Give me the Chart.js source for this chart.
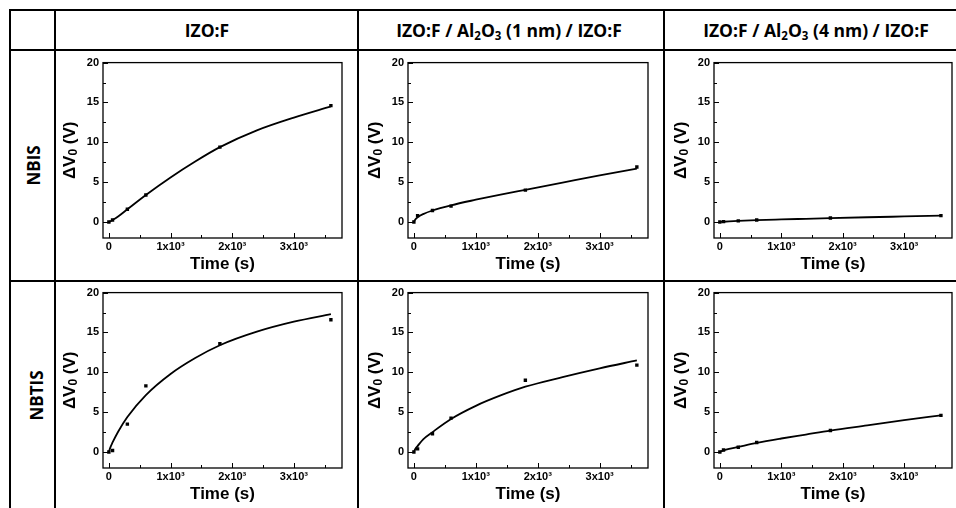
<!DOCTYPE html>
<html>
<head>
<meta charset="utf-8">
<script src="https://cdn.jsdelivr.net/npm/chart.js@4.4.0/dist/chart.umd.min.js"></script>
<style>
  html, body { margin: 0; padding: 0; background: #fff; width: 956px; height: 508px; overflow: hidden; }
  .wrap { position: relative; width: 956px; height: 508px; }
  canvas.panel { position: absolute; }
  .hl, .vl { position: absolute; background: #000; z-index: 5; }
  .hl { height: 2px; }
  .vl { width: 2px; }
  .head { position: absolute; top: 10px; height: 40px; line-height: 40px; text-align: center;
          font-family: "Open Sans", "DejaVu Sans", sans-serif; font-weight: 700; font-size: 17.5px; color: #000; white-space: nowrap; }
  .head sub { font-size: 11.5px; vertical-align: -3px; line-height: 0; }
  .rowlab { position: absolute; left: 11px; width: 44px; text-align: center;
            font-family: "Open Sans", "DejaVu Sans", sans-serif; font-weight: 700; font-size: 17px; color: #000; }
  .rowlab span { display: inline-block; transform: rotate(-90deg); white-space: nowrap; }
</style>
</head>
<body>
<div class="wrap" id="wrap">
  <div class="hl" style="left:9px; top:9px; width:960px;"></div>
  <div class="hl" style="left:9px; top:49px; width:960px;"></div>
  <div class="hl" style="left:9px; top:280px; width:960px;"></div>
  <div class="vl" style="left:9px; top:9px; height:510px;"></div>
  <div class="vl" style="left:54px; top:9px; height:510px;"></div>
  <div class="vl" style="left:357px; top:9px; height:510px;"></div>
  <div class="vl" style="left:663px; top:9px; height:510px;"></div>
</div>
<script>
// ---------- data ----------
const columnTitles = ['IZO:F', 'IZO:F / Al<sub>2</sub>O<sub>3</sub> (1 nm) / IZO:F', 'IZO:F / Al<sub>2</sub>O<sub>3</sub> (4 nm) / IZO:F'];
const rowTitles = ['NBIS', 'NBTIS'];

const timeS = [0, 60, 300, 600, 1800, 3600];
const nbisIzo   = [0, 0.25, 1.6, 3.4, 9.4, 14.6];
const nbis1nm   = [0, 0.8, 1.45, 2.0, 4.0, 6.9];
const nbis4nm   = [0, 0.05, 0.15, 0.25, 0.5, 0.8];
const nbtisIzo  = [0, 0.2, 3.5, 8.3, 13.6, 16.6];
const nbtis1nm  = [0, 0.4, 2.3, 4.25, 9.0, 10.9];
const nbtis4nm  = [0, 0.25, 0.6, 1.2, 2.7, 4.6];

// fitted curves
const fitTimeS = [0, 20, 60, 150, 300, 600, 1000, 1400, 1800, 2400, 3000, 3600];
const fitNbisIzo  = [0, 0.08, 0.25, 0.7, 1.6, 3.4, 5.6, 7.6, 9.4, 11.5, 13.1, 14.5];
const fitNbis1nm  = [0, 0.3, 0.6, 1.0, 1.45, 2.1, 2.8, 3.45, 4.05, 4.95, 5.85, 6.7];
const fitNbis4nm  = [0, 0.02, 0.04, 0.08, 0.14, 0.24, 0.33, 0.41, 0.49, 0.6, 0.7, 0.8];
const fitNbtisIzo = [0, 0.5, 1.2, 2.55, 4.4, 7.15, 9.8, 11.8, 13.4, 15.1, 16.35, 17.3];
const fitNbtis1nm = [0, 0.35, 0.75, 1.6, 2.5, 4.15, 5.8, 7.1, 8.2, 9.4, 10.5, 11.5];
const fitNbtis4nm = [0, 0.08, 0.2, 0.4, 0.65, 1.15, 1.7, 2.2, 2.7, 3.35, 4.0, 4.6];

const xTickValues = [0, 1000, 2000, 3000];
const xTickLabels = ['0', '1x10\u00B3', '2x10\u00B3', '3x10\u00B3'];
const xMinorValues = [500, 1500, 2500, 3500];
const yTickValues = [0, 5, 10, 15, 20];
const yMinorValues = [2.5, 7.5, 12.5, 17.5];
const xRange = [-95, 3780];
const yRange = [-2, 20];
const xTitle = 'Time (s)';
const yTitleParts = ['\u0394V', '0', ' (V)'];   // ΔV with subscript 0, then (V)

const panelSeries = [
  [nbisIzo, fitNbisIzo], [nbis1nm, fitNbis1nm], [nbis4nm, fitNbis4nm],
  [nbtisIzo, fitNbtisIzo], [nbtis1nm, fitNbtis1nm], [nbtis4nm, fitNbtis4nm]
];

// ---------- layout ----------
const colLeft = [56, 361, 667];
const colPlotRight = [342, 648, 952];
const rowTop = [52, 282];
const canvasW = 300, canvasH = 228;
const headCenters = [207, 509, 816];

const wrap = document.getElementById('wrap');
columnTitles.forEach((t, i) => {
  const d = document.createElement('div');
  d.className = 'head';
  d.style.left = (headCenters[i] - 160) + 'px';
  d.style.width = '320px';
  d.innerHTML = t;
  wrap.appendChild(d);
});
rowTitles.forEach((t, i) => {
  const d = document.createElement('div');
  d.className = 'rowlab';
  d.style.top = (rowTop[i] - 1) + 'px';
  d.style.height = '229px';
  d.style.lineHeight = '229px';
  d.innerHTML = '<span>' + t + '</span>';
  wrap.appendChild(d);
});

const FONT = '"Liberation Sans", Arial, sans-serif';

const frameTicks = {
  id: 'frameTicks',
  afterDatasetsDraw(chart) {
    const { ctx, chartArea: a, scales: { x, y } } = chart;
    ctx.save();
    ctx.strokeStyle = '#000';
    ctx.lineWidth = 1.3;
    ctx.strokeRect(a.left, a.top, a.right - a.left, a.bottom - a.top);
    ctx.lineWidth = 1;
    ctx.beginPath();
    xTickValues.forEach(v => { const p = Math.round(x.getPixelForValue(v)) + 0.5; ctx.moveTo(p, a.bottom); ctx.lineTo(p, a.bottom - 5); });
    xMinorValues.forEach(v => { const p = Math.round(x.getPixelForValue(v)) + 0.5; ctx.moveTo(p, a.bottom); ctx.lineTo(p, a.bottom - 3); });
    yTickValues.forEach(v => { const p = Math.round(y.getPixelForValue(v)) + 0.5; ctx.moveTo(a.left, p); ctx.lineTo(a.left + 5, p); });
    yMinorValues.forEach(v => { const p = Math.round(y.getPixelForValue(v)) + 0.5; ctx.moveTo(a.left, p); ctx.lineTo(a.left + 3, p); });
    ctx.stroke();

    // y-axis title with a real subscript
    const big = 'bold 17px ' + FONT, small = 'bold 12px ' + FONT;
    ctx.font = big; const w0 = ctx.measureText(yTitleParts[0]).width;
    ctx.font = small; const w1 = ctx.measureText(yTitleParts[1]).width;
    ctx.font = big; const w2 = ctx.measureText(yTitleParts[2]).width;
    const total = w0 + w1 + w2;
    ctx.translate(14, (a.top + a.bottom) / 2);
    ctx.rotate(-Math.PI / 2);
    ctx.fillStyle = '#000';
    ctx.textBaseline = 'middle';
    ctx.textAlign = 'left';
    let px = -total / 2;
    ctx.font = big; ctx.fillText(yTitleParts[0], px, 0); px += w0;
    ctx.font = small; ctx.fillText(yTitleParts[1], px, 4); px += w1;
    ctx.font = big; ctx.fillText(yTitleParts[2], px, 0);
    ctx.restore();
  }
};

const tickFont = { family: FONT, size: 11, weight: 'bold' };
const titleFont = { family: FONT, size: 17, weight: 'bold' };

panelSeries.forEach((s, idx) => {
  const r = Math.floor(idx / 3), c = idx % 3;
  const cv = document.createElement('canvas');
  cv.className = 'panel';
  cv.width = canvasW; cv.height = canvasH;
  cv.style.left = colLeft[c] + 'px';
  cv.style.top = rowTop[r] + 'px';
  cv.style.width = canvasW + 'px';
  cv.style.height = canvasH + 'px';
  wrap.appendChild(cv);
  const [pts, fit] = s;
  new Chart(cv, {
    type: 'scatter',
    data: {
      datasets: [
        {
          data: fitTimeS.map((t, i) => ({ x: t, y: fit[i] })),
          showLine: true, cubicInterpolationMode: 'monotone',
          borderColor: '#000', borderWidth: 1.8, pointRadius: 0, fill: false
        },
        {
          data: timeS.map((t, i) => ({ x: t, y: pts[i] })),
          pointStyle: 'rect', pointRadius: 2.4, backgroundColor: '#000', borderColor: '#000', borderWidth: 0
        }
      ]
    },
    options: {
      responsive: false, animation: false, events: [],
      layout: { padding: { left: 0, right: colLeft[c] + canvasW - colPlotRight[c], top: 10, bottom: 0 } },
      plugins: { legend: { display: false }, tooltip: { enabled: false } },
      scales: {
        x: {
          type: 'linear', min: xRange[0], max: xRange[1],
          afterBuildTicks: sc => { sc.ticks = xTickValues.map(v => ({ value: v })); },
          afterFit: sc => { sc.height = 42; },
          ticks: { callback: v => xTickLabels[xTickValues.indexOf(v)], font: tickFont, color: '#000', padding: 2, maxRotation: 0, autoSkip: false },
          grid: { display: false, drawTicks: false },
          border: { display: false },
          title: { display: true, text: xTitle, font: titleFont, color: '#000', padding: { top: 0, bottom: 5 } }
        },
        y: {
          type: 'linear', min: yRange[0], max: yRange[1],
          afterBuildTicks: sc => { sc.ticks = yTickValues.map(v => ({ value: v })); },
          afterFit: sc => { sc.width = 47; },
          ticks: { font: tickFont, color: '#000', padding: 4 },
          grid: { display: false, drawTicks: false },
          border: { display: false },
          title: { display: false }
        }
      }
    },
    plugins: [frameTicks]
  });
});
</script>
</body>
</html>
